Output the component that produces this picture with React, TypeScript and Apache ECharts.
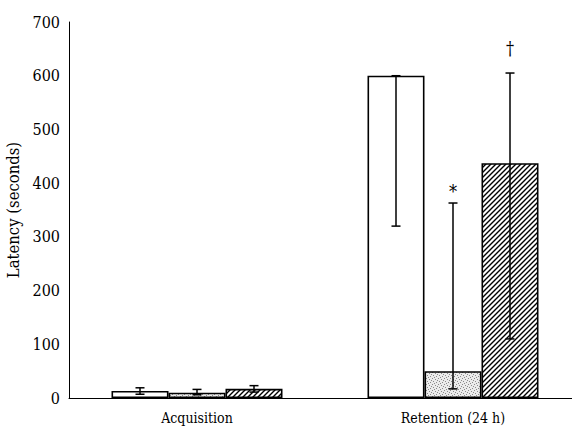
import React, { useEffect, useRef } from "react";
import * as echarts from "echarts";

const categories = ["Acquisition", "Retention (24 h)"];
const seriesNames = ["Group A", "Group B", "Group C"];
const meanA = [13, 600];
const meanB = [10, 50];
const meanC = [17, 437];
const lowA = [7, 320];
const highA = [19, 600];
const lowB = [6, 17];
const highB = [16, 363];
const lowC = [11, 110];
const highC = [23, 605];
const marksA = ["", ""];
const marksB = ["", "*"];
const marksC = ["", "†"];
const yTicks = [0, 700, 100];

function makeHatch(): HTMLCanvasElement {
  const c = document.createElement("canvas");
  c.width = 5;
  c.height = 5;
  const ctx = c.getContext("2d")!;
  ctx.fillStyle = "#ffffff";
  ctx.fillRect(0, 0, 5, 5);
  ctx.strokeStyle = "#000000";
  ctx.lineWidth = 1.4;
  ctx.beginPath();
  ctx.moveTo(-1, 6);
  ctx.lineTo(6, -1);
  ctx.moveTo(-1, 1);
  ctx.lineTo(1, -1);
  ctx.moveTo(4, 6);
  ctx.lineTo(6, 4);
  ctx.stroke();
  return c;
}

function makeStipple(): HTMLCanvasElement {
  const c = document.createElement("canvas");
  c.width = 6;
  c.height = 6;
  const ctx = c.getContext("2d")!;
  ctx.fillStyle = "#ebebeb";
  ctx.fillRect(0, 0, 6, 6);
  ctx.fillStyle = "#8a8a8a";
  const dots = [[0, 0], [3, 1], [1, 3], [4, 4], [5, 2], [2, 5]];
  dots.forEach(([x, y]) => ctx.fillRect(x, y, 1, 1));
  return c;
}

export default function App() {
  const ref = useRef<HTMLDivElement>(null);
  useEffect(() => {
    if (!ref.current) return;
    const chart = echarts.init(ref.current, undefined, { renderer: "svg" });
    const font = "DejaVu Serif Condensed, DejaVu Serif";
    const barW = 57;
    const fills: any[] = [
      "#ffffff",
      { image: makeStipple(), repeat: "repeat" },
      { image: makeHatch(), repeat: "repeat" },
    ];
    const means = [meanA, meanB, meanC];
    const lows = [lowA, lowB, lowC];
    const highs = [highA, highB, highC];
    const marks = [marksA, marksB, marksC];

    const barSeries = means.map((m, s) => ({
      type: "bar",
      name: seriesNames[s],
      data: m,
      barWidth: barW,
      barGap: "0%",
      itemStyle: { color: fills[s], borderColor: "#000", borderWidth: 1.6 },
      z: 2,
    }));

    const errSeries = means.map((m, s) => ({
      type: "custom",
      name: seriesNames[s] + " error",
      data: categories.map((_, i) => [i, lows[s][i], highs[s][i], m[i]]),
      z: 5,
      renderItem: (params: any, api: any) => {
        const i = api.value(0);
        const lo = api.coord([i, api.value(1)]);
        const hi = api.coord([i, api.value(2)]);
        const x = lo[0] + (s - 1) * barW;
        const cap = 4.5;
        const label = marks[s][params.dataIndex];
        const children: any[] = [
          { type: "line", shape: { x1: x, y1: lo[1], x2: x, y2: hi[1] }, style: { stroke: "#000", lineWidth: 1.5 } },
          { type: "line", shape: { x1: x - cap, y1: lo[1], x2: x + cap, y2: lo[1] }, style: { stroke: "#000", lineWidth: 1.5 } },
          { type: "line", shape: { x1: x - cap, y1: hi[1], x2: x + cap, y2: hi[1] }, style: { stroke: "#000", lineWidth: 1.5 } },
        ];
        if (label) {
          children.push({
            type: "text",
            style: {
              text: label,
              x: x,
              y: hi[1] - (label === "*" ? 3 : 16),
              align: "center",
              verticalAlign: "bottom",
              fontFamily: font,
              fontSize: 18,
              fill: "#000",
            },
          });
        }
        return { type: "group", children };
      },
    }));

    chart.setOption({
      animation: false,
      backgroundColor: "#ffffff",
      textStyle: { fontFamily: font },
      grid: { left: 69, width: 512, top: 22, bottom: 37, outerBoundsMode: "none", containLabel: false },
      xAxis: {
        type: "category",
        data: categories,
        axisLine: { lineStyle: { color: "#000", width: 1 } },
        axisTick: { show: false },
        axisLabel: { color: "#000", fontFamily: font, fontSize: 14, margin: 13 },
      },
      yAxis: {
        type: "value",
        min: yTicks[0],
        max: yTicks[1],
        interval: yTicks[2],
        name: "Latency (seconds)",
        nameLocation: "middle",
        nameGap: 38,
        nameTextStyle: { color: "#000", fontFamily: font, fontSize: 16.5 },
        axisLine: { show: true, lineStyle: { color: "#000", width: 1 } },
        axisTick: { show: false },
        splitLine: { show: false },
        axisLabel: { color: "#000", fontFamily: font, fontSize: 16, margin: 9 },
      },
      series: [...barSeries, ...errSeries],
    });
    return () => chart.dispose();
  }, []);
  return <div ref={ref} style={{ width: 572, height: 435, position: "absolute", left: 0, top: 0 }} />;
}
